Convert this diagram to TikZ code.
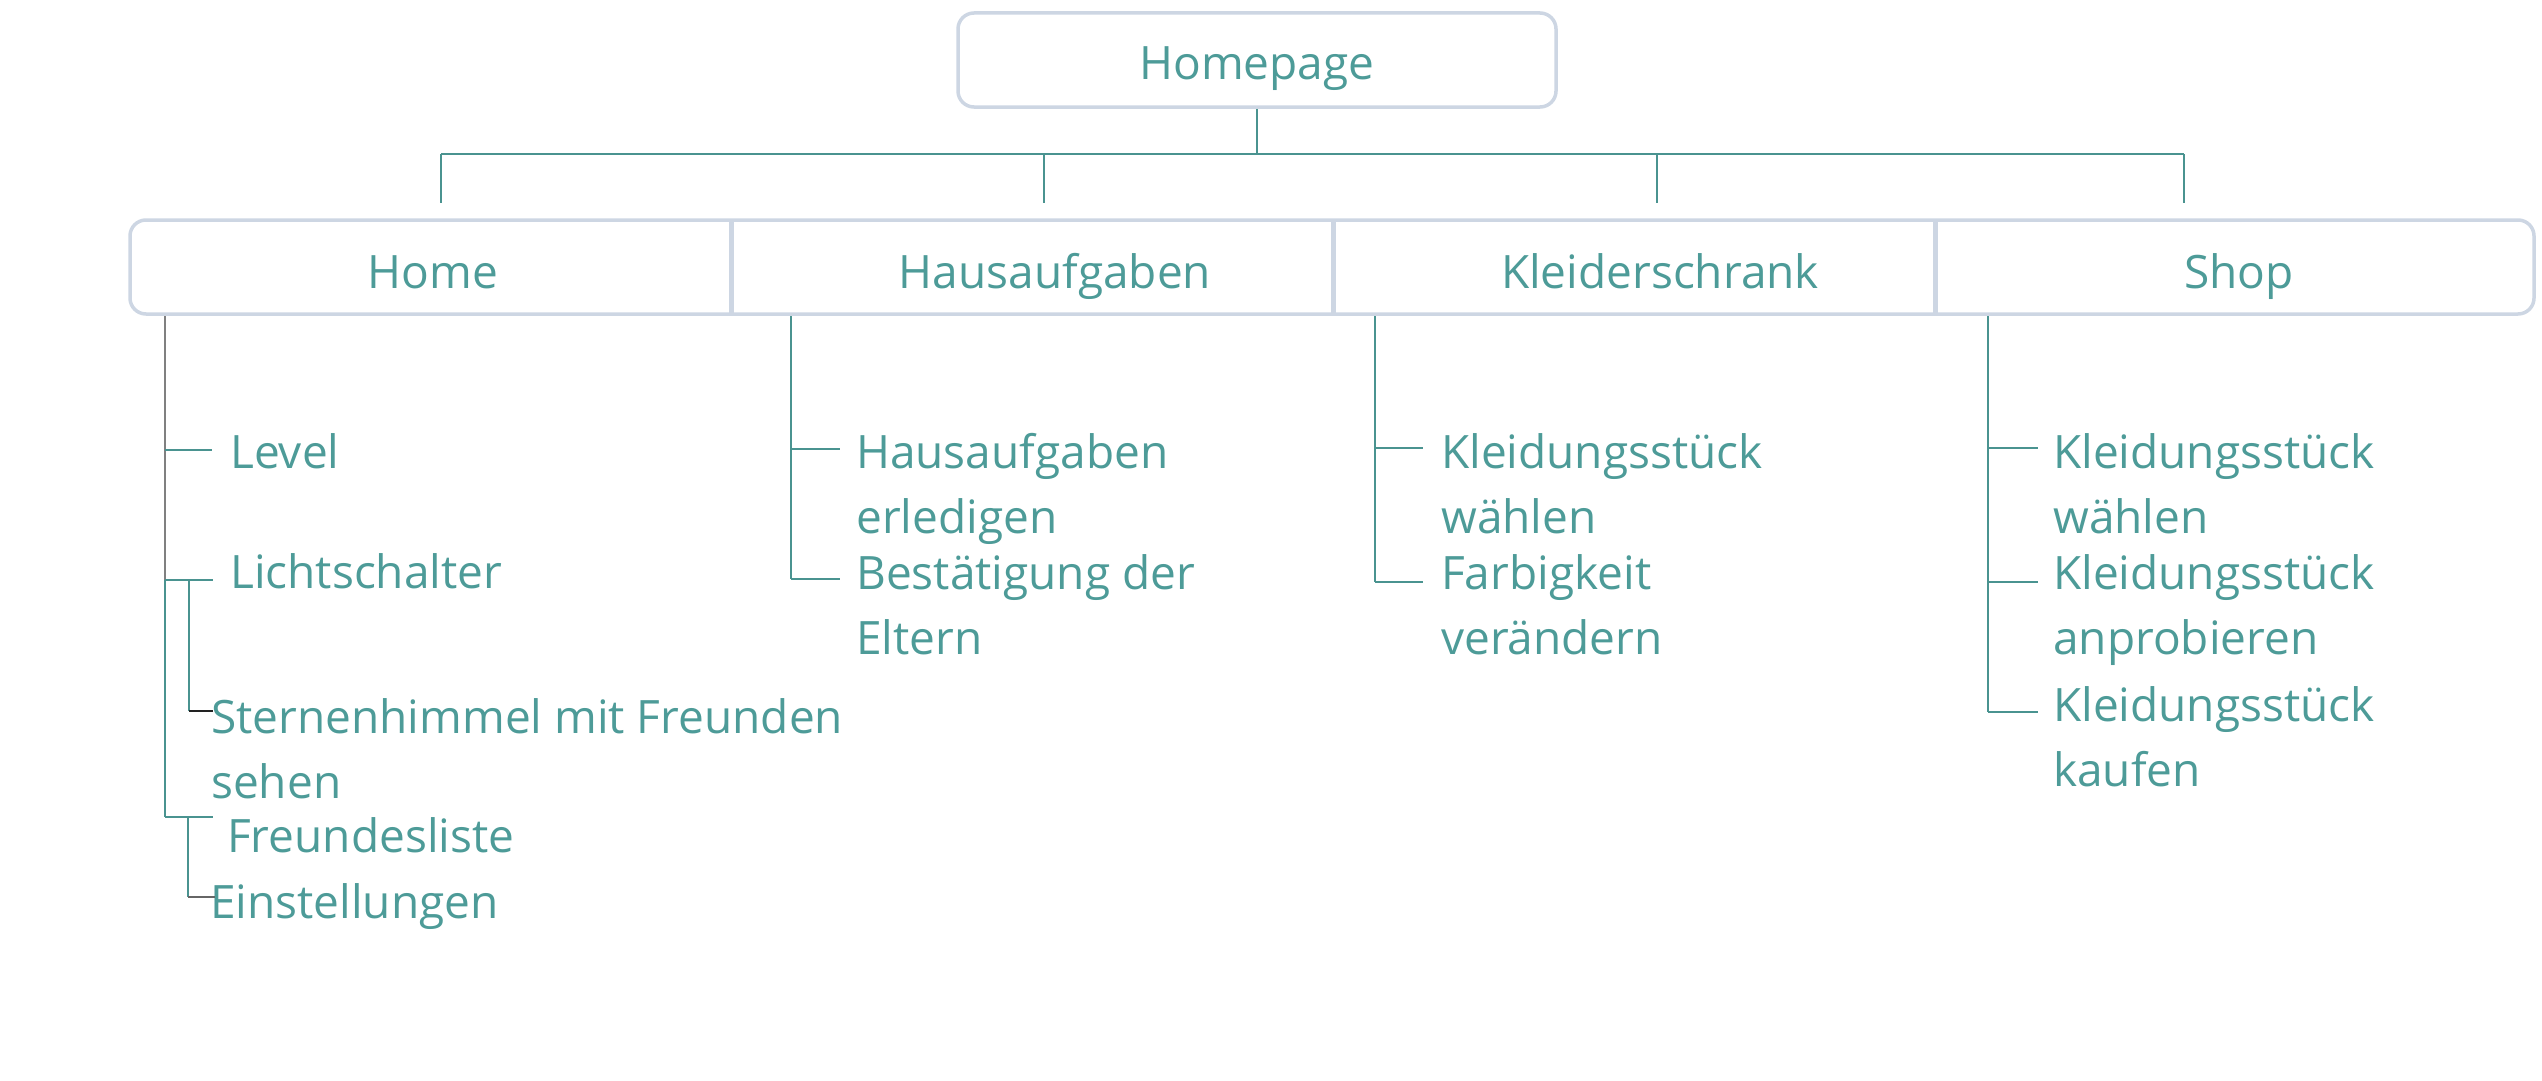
\documentclass[tikz,border=0pt]{standalone}
\usepackage{fontspec}
\setmainfont{Open Sans}
\definecolor{txt}{HTML}{4D9B98}
\definecolor{ln}{HTML}{4A9390}
\definecolor{bd}{HTML}{CDD6E3}
\definecolor{gr}{HTML}{808080}
\definecolor{dk}{HTML}{222222}
\definecolor{dg}{HTML}{666666}
\begin{document}
\begin{tikzpicture}[x=1pt,y=-1pt,
  lbl/.style={text=txt, font=\fontsize{46}{65}\selectfont, inner sep=0pt},
  conn/.style={draw=ln, line width=1.6pt},
  frame/.style={draw=bd, line width=3.5pt},
  divider/.style={draw=bd, line width=5pt}]
\useasboundingbox (0,0) rectangle (2542,1081);

% top node
\node[lbl, frame, rounded corners=16pt, minimum width=598pt, minimum height=94pt,
      text height=40pt, text depth=0pt] (homepage) at (1257,60) {Homepage};

% bus
\coordinate (bus) at (1257,154);
\coordinate (busL) at (441,154);
\coordinate (busR) at (2184,154);
\coordinate (d1) at (441,203);
\coordinate (d2) at (1044,203);
\coordinate (d3) at (1657,203);
\coordinate (d4) at (2184,203);
\draw[conn] (homepage.south) -- (homepage.south |- bus);
\draw[conn] (busL) -- (busR);
\draw[conn] (busL) -- (d1);
\draw[conn] (d2 |- bus) -- (d2);
\draw[conn] (d3 |- bus) -- (d3);
\draw[conn] (busR) -- (d4);

% category bar
\draw[frame, rounded corners=16pt] (130,220) rectangle (2534,314);
\draw[divider] (731,221) -- (731,313);
\draw[divider] (1333,221) -- (1333,313);
\draw[divider] (1935,221) -- (1935,313);

\node[lbl, anchor=base] (home) at (433,288) {Home};
\node[lbl, anchor=base] (haus) at (1055,288) {Hausaufgaben};
\node[lbl, anchor=base] (kleid) at (1660,288) {Kleiderschrank};
\node[lbl, anchor=base] (shop) at (2239,288) {Shop};

% ---------- Home subtree ----------
\coordinate (hT) at (165,316);
\coordinate (lvT) at (212,450);
\coordinate (liT) at (213,580);
\coordinate (liS) at (189,580);
\coordinate (stT) at (213,711);
\coordinate (frT) at (213,817);
\coordinate (frS) at (188,817);
\coordinate (eiT) at (215,897);

\node[lbl, anchor=base west] (level) at (230,468) {Level};
\node[lbl, anchor=base west] (licht) at (230,588) {Lichtschalter};
\node[lbl, anchor=base west] (stern) at (211,733)
  {\begin{tabular}[t]{@{}l@{}}Sternenhimmel mit Freunden\\sehen\end{tabular}};
\node[lbl, anchor=base west] (freund) at (227,852) {Freundesliste};
\node[lbl, anchor=base west] (einst) at (210,918) {Einstellungen};

\draw[draw=gr, line width=1.6pt] (hT) -- (hT |- liT);
\draw[conn] (hT |- liT) -- (hT |- frT);
\draw[conn] (hT |- lvT) -- (lvT);
\draw[conn] (hT |- liT) -- (liT);
\draw[conn] (liS) -- (liS |- stT);
\draw[draw=dk, line width=1.6pt] (liS |- stT) -- (stT);
\draw[conn] (hT |- frT) -- (frT);
\draw[conn] (frS) -- (frS |- eiT);
\draw[draw=dg, line width=2pt] (frS |- eiT) -- (eiT);

% ---------- Hausaufgaben subtree ----------
\coordinate (aT) at (791,316);
\coordinate (a1) at (840,449);
\coordinate (a2) at (840,579);
\node[lbl, anchor=base west] (erled) at (856,468)
  {\begin{tabular}[t]{@{}l@{}}Hausaufgaben\\erledigen\end{tabular}};
\node[lbl, anchor=base west] (bestaet) at (856,589)
  {\begin{tabular}[t]{@{}l@{}}Bestätigung der\\Eltern\end{tabular}};
\draw[conn] (aT) -- (aT |- a2);
\draw[conn] (aT |- a1) -- (a1);
\draw[conn] (aT |- a2) -- (a2);

% ---------- Kleiderschrank subtree ----------
\coordinate (kT) at (1375,316);
\coordinate (k1) at (1423,448);
\coordinate (k2) at (1423,582);
\node[lbl, anchor=base west] (kwaehl) at (1441,468)
  {\begin{tabular}[t]{@{}l@{}}Kleidungsstück\\wählen\end{tabular}};
\node[lbl, anchor=base west] (farb) at (1441,589)
  {\begin{tabular}[t]{@{}l@{}}Farbigkeit\\verändern\end{tabular}};
\draw[conn] (kT) -- (kT |- k2);
\draw[conn] (kT |- k1) -- (k1);
\draw[conn] (kT |- k2) -- (k2);

% ---------- Shop subtree ----------
\coordinate (sT) at (1988,316);
\coordinate (s1) at (2038,448);
\coordinate (s2) at (2038,582);
\coordinate (s3) at (2038,712);
\node[lbl, anchor=base west] (swaehl) at (2053,468)
  {\begin{tabular}[t]{@{}l@{}}Kleidungsstück\\wählen\end{tabular}};
\node[lbl, anchor=base west] (sanpro) at (2053,589)
  {\begin{tabular}[t]{@{}l@{}}Kleidungsstück\\anprobieren\end{tabular}};
\node[lbl, anchor=base west] (skauf) at (2053,721)
  {\begin{tabular}[t]{@{}l@{}}Kleidungsstück\\kaufen\end{tabular}};
\draw[conn] (sT) -- (sT |- s3);
\draw[conn] (sT |- s1) -- (s1);
\draw[conn] (sT |- s2) -- (s2);
\draw[conn] (sT |- s3) -- (s3);
\end{tikzpicture}
\end{document}
